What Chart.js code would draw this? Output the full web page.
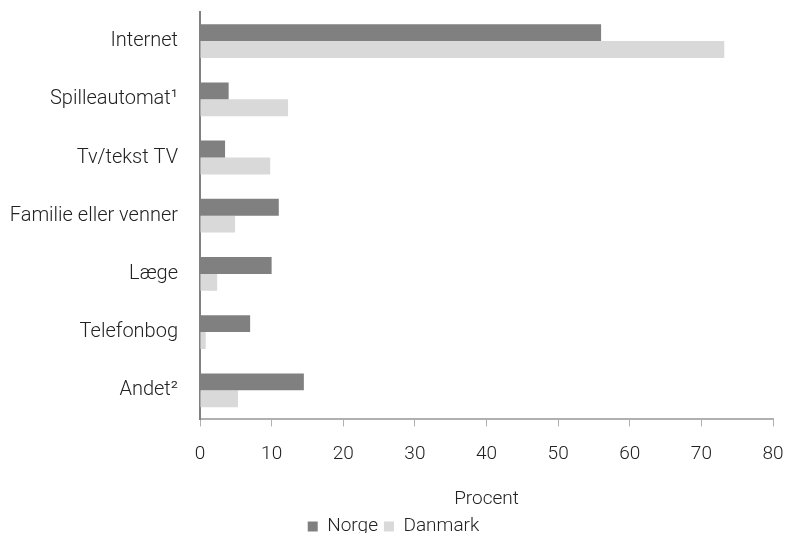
<!DOCTYPE html>
<html>
<head>
<meta charset="utf-8">
<script src="https://cdn.jsdelivr.net/npm/chart.js@4/dist/chart.umd.min.js"></script>
<style>
html,body{margin:0;padding:0;background:#fff;overflow:hidden;}
#wrap{width:787px;height:533px;overflow:hidden;}
</style>
</head>
<body>
<div id="wrap"><canvas id="c" width="787" height="546"></canvas></div>
<script>
const categories = ["Internet", "Spilleautomat\u00B9", "Tv/tekst TV", "Familie eller venner", "Læge", "Telefonbog", "Andet\u00B2"];
const norge = [56, 4, 3.5, 11, 10, 7, 14.5];
const danmark = [73.2, 12.3, 9.8, 4.9, 2.4, 0.8, 5.3];
const xTicks = [0, 10, 20, 30, 40, 50, 60, 70, 80];

const FONT = "Roboto";
Chart.defaults.font.family = FONT;
Chart.defaults.color = "#222";

new Chart(document.getElementById("c"), {
  type: "bar",
  data: {
    labels: categories,
    datasets: [
      { label: "Norge", data: norge, backgroundColor: "#808080", categoryPercentage: 0.58, barPercentage: 1.0 },
      { label: "Danmark", data: danmark, backgroundColor: "#d9d9d9", categoryPercentage: 0.58, barPercentage: 1.0 }
    ]
  },
  options: {
    indexAxis: "y",
    responsive: false,
    animation: false,
    layout: { padding: { top: 12, right: 0, left: 0, bottom: 0 } },
    plugins: {
      legend: {
        position: "bottom",
        labels: { boxWidth: 10, boxHeight: 10, padding: 6, font: { size: 19, weight: "300" }, color: "#222" }
      },
      tooltip: { enabled: false }
    },
    scales: {
      x: {
        min: 0, max: 80,
        afterBuildTicks: (axis) => { axis.ticks = xTicks.map(v => ({ value: v })); },
        afterFit: (s) => { s.paddingLeft = 0; s.paddingRight = 14; },
        grid: { display: true, drawOnChartArea: false, drawTicks: true, tickLength: 7, color: "#b0b0b0", lineWidth: 1 },
        border: { display: true, color: "#b0b0b0", width: 2 },
        ticks: { padding: 16, font: { size: 19, weight: "300" }, color: "#222", maxRotation: 0 },
        title: { display: true, text: "Procent", font: { size: 19, weight: "300" }, color: "#222", padding: { top: 7, bottom: 0 } }
      },
      y: {
        afterFit: (s) => { s.paddingTop = 0; s.paddingBottom = 0; s.width = 200; },
        grid: { display: false, drawTicks: false },
        border: { display: true, color: "#808080", width: 2 },
        ticks: { padding: 22, font: { size: 20, weight: "300" }, color: "#222" }
      }
    }
  }
});
</script>
</body>
</html>
